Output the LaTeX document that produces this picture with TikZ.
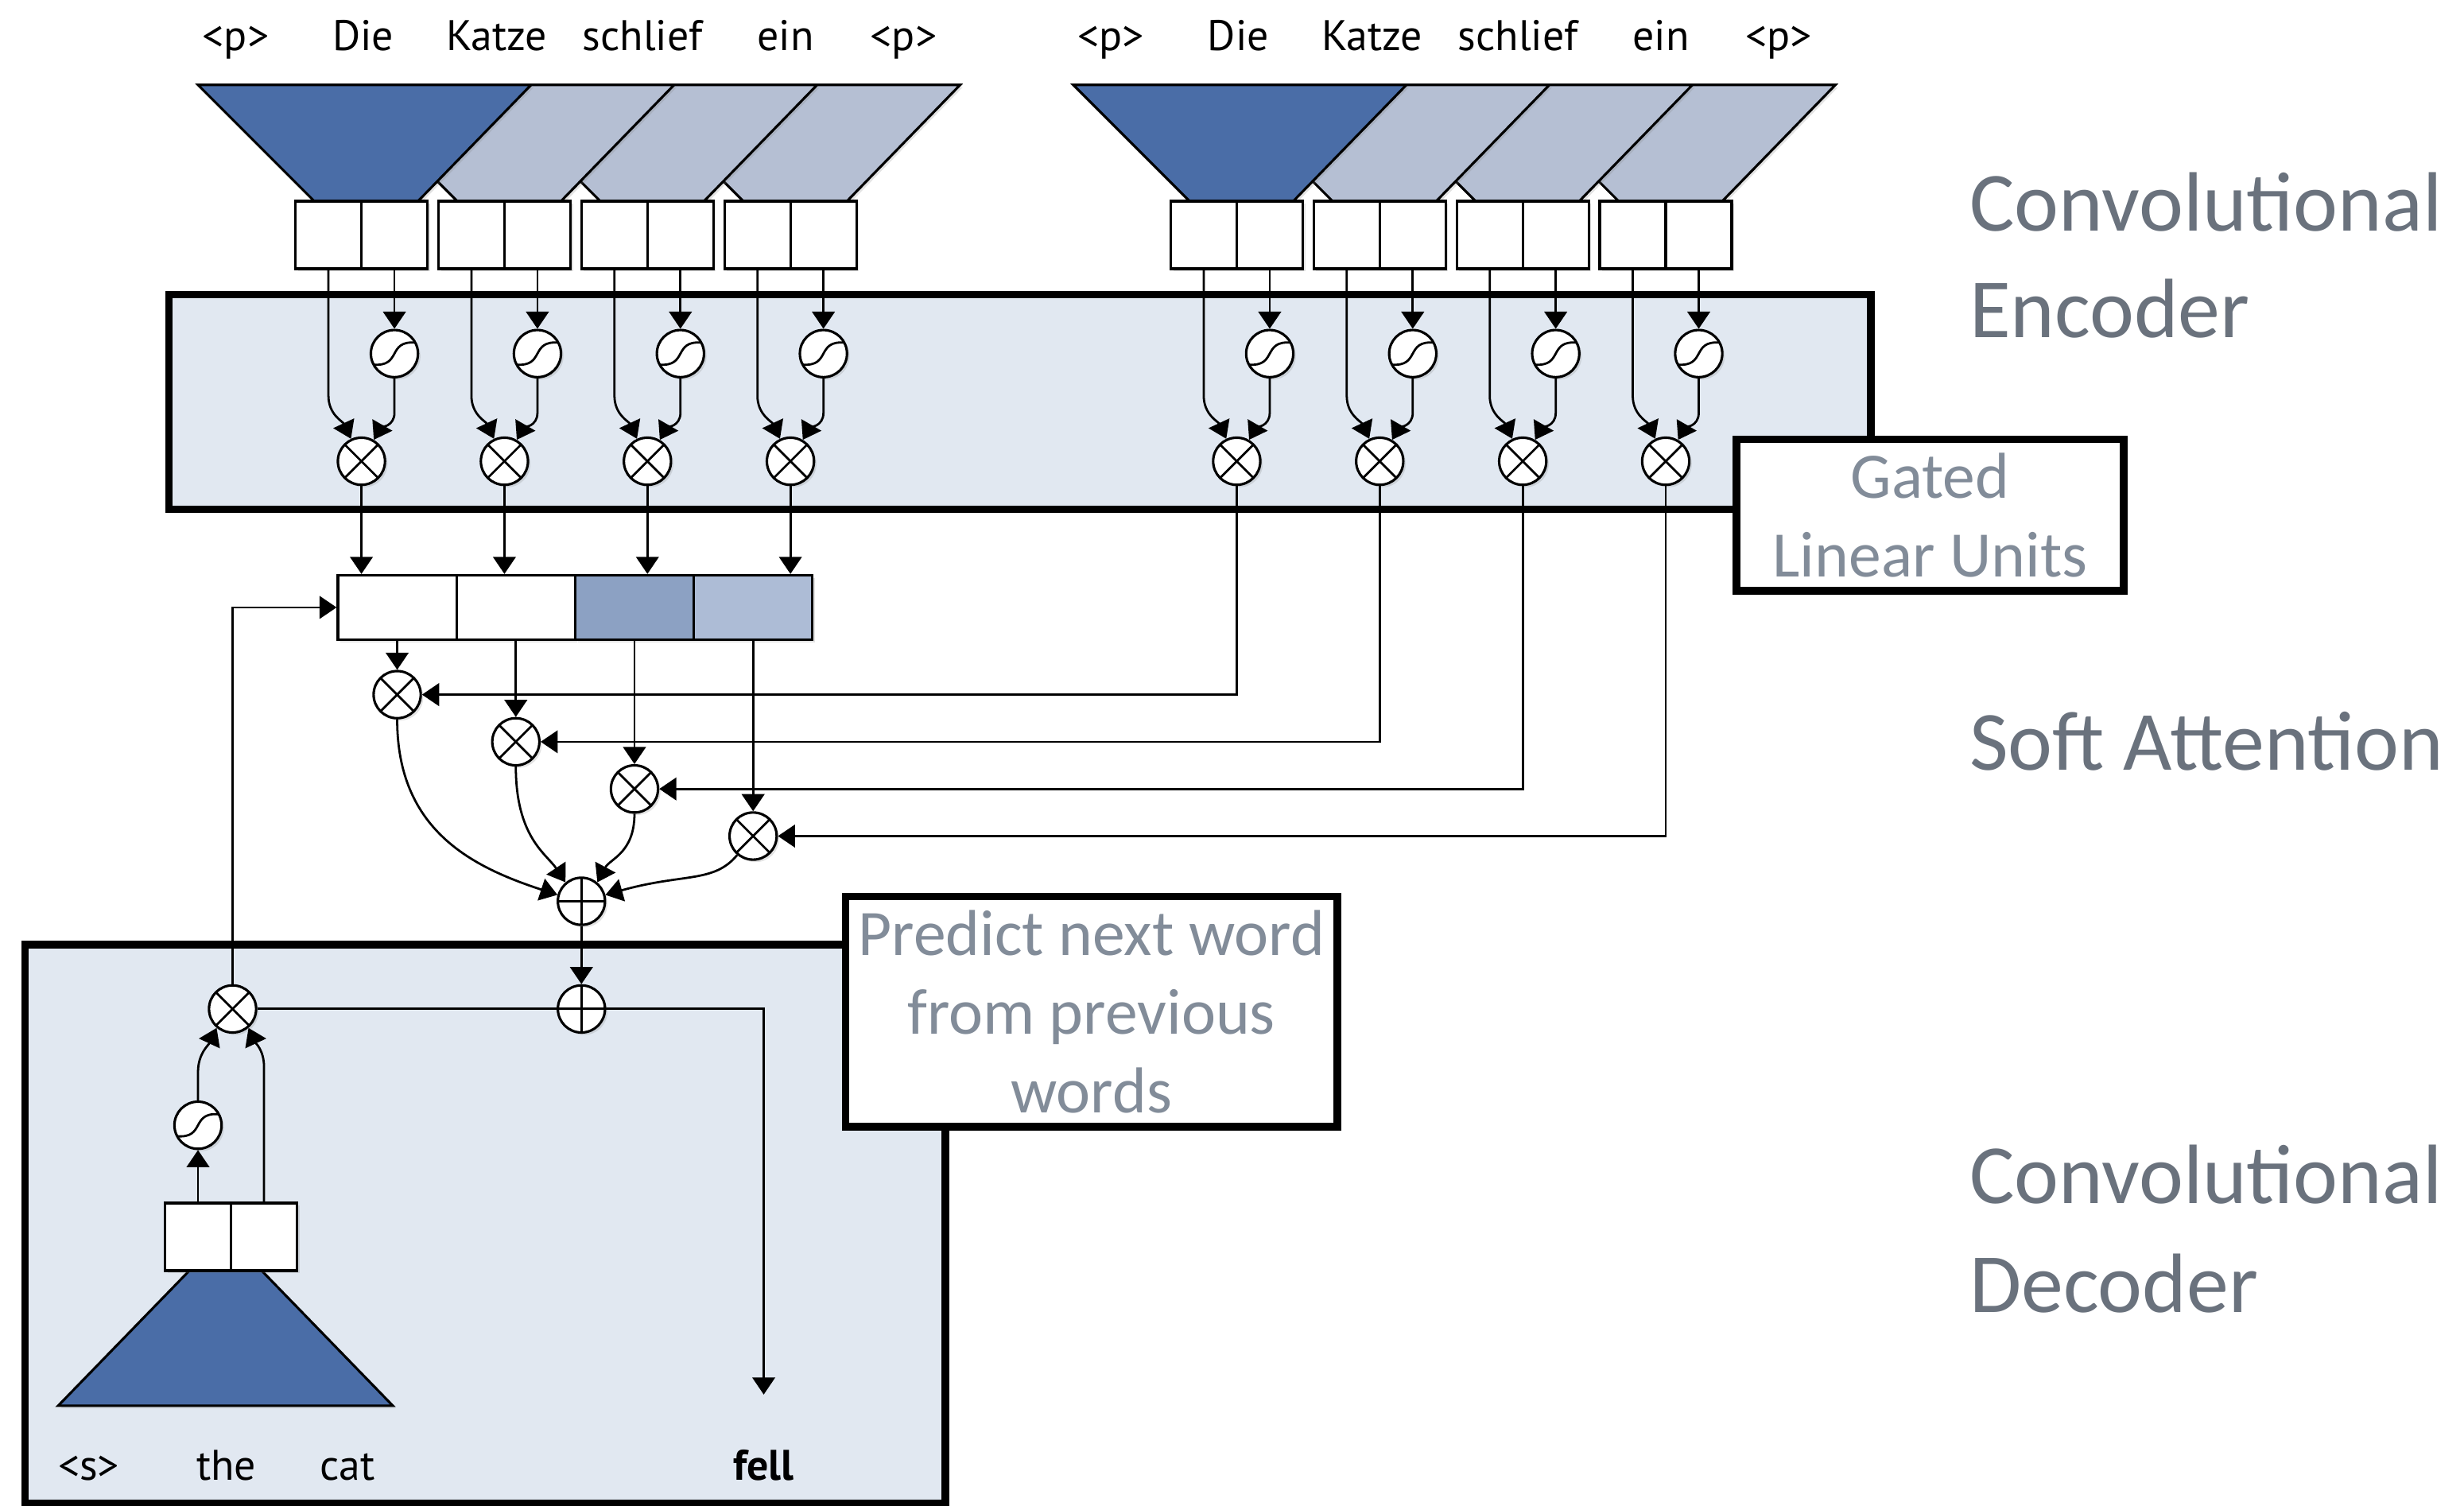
\documentclass[tikz,border=0pt]{standalone}
\usepackage{fontspec}
\setmainfont{Carlito}
\newfontfamily\wordfont{PT Sans}
\usetikzlibrary{arrows.meta, shadows, calc, positioning}
\definecolor{convblue}{HTML}{4A6DA7}
\definecolor{convlight}{HTML}{B5BFD3}
\definecolor{attmid}{HTML}{8CA1C3}
\definecolor{attlight}{HTML}{ADBCD6}
\definecolor{panelbg}{HTML}{E1E8F1}
\definecolor{labelgray}{HTML}{6A727D}
\definecolor{notegray}{HTML}{828C99}
\tikzset{
  >={Triangle[length=6.2pt,width=8.2pt]},  % Frecce triangolari
  % Ombre leggere
  soft shadow/.style={drop shadow={opacity=0.22,shadow xshift=0.9pt,shadow yshift=-0.9pt}},
  % Celle e filtri
  cell/.style={draw,fill=white,line width=0.9pt,minimum width=0.84cm,minimum height=0.86cm,inner sep=0,soft shadow},
  trap dark/.style={draw,fill=convblue,line width=0.9pt,soft shadow},
  trap light/.style={draw,fill=convlight,line width=0.9pt,soft shadow},
  % Porte
  gate/.style={circle,draw,fill=white,line width=0.9pt,minimum size=0.6cm,inner sep=0,soft shadow},
  gate mul/.style={gate,path picture={
      \draw[line width=0.8pt] (path picture bounding box.north west) -- (path picture bounding box.south east)
        (path picture bounding box.north east) -- (path picture bounding box.south west);}},
  gate sum/.style={gate,path picture={
      \draw[line width=0.8pt] (path picture bounding box.north) -- (path picture bounding box.south)
        (path picture bounding box.east) -- (path picture bounding box.west);}},
  gate sig/.style={gate,path picture={
      \draw[line width=0.8pt] ($(path picture bounding box.center)+(-0.27cm,-0.14cm)$)
        .. controls ($(path picture bounding box.center)+(0.1cm,-0.17cm)$)
        and ($(path picture bounding box.center)+(-0.1cm,0.17cm)$)
        .. ($(path picture bounding box.center)+(0.27cm,0.14cm)$);}},
  % Connessioni
  connect/.style={line width=0.8pt},
  connect arrow/.style={connect,->},
  % Riquadri e testi
  panel/.style={draw,line width=2.8pt,fill=panelbg},
  note box/.style={draw,line width=2.8pt,fill=white,text=notegray,align=center,
    font=\fontsize{23.5}{28.5}\selectfont,inner sep=0},
  side label/.style={text=labelgray,font=\fontsize{30.5}{36}\selectfont,anchor=base west,inner sep=0},
  word/.style={font=\wordfont\fontsize{15.5}{18}\selectfont,anchor=base,inner sep=0}
}

\begin{document}
\begin{tikzpicture}[x=0.02cm,y=0.02cm]
  \useasboundingbox (0,0) rectangle (1568,-958);
  % Panels
  \draw[panel] (107.5,-187.5) rectangle (1190.5,-324);
  \draw[panel] (16,-601) rectangle (601.5,-956.5);
  % Encoder (two copies)
  \foreach \e/\sx in {1/0,2/557} {
    \foreach \w/\wx [count=\k] in {<p>/150,Die/231,Katze/316,schlief/409,ein/500,<p>/575}
      \node[word] (w\e\k) at (\wx+\sx,-32) {\w};
    \foreach \i in {3,2,1}
      \filldraw[trap light] ({188+\sx+91*\i-62},-54) -- ++(212,0) -- ++(-72,-74) -- ++(-66,0) -- cycle;
    \filldraw[trap dark] ({188+\sx-62},-54) -- ++(212,0) -- ++(-72,-74) -- ++(-66,0) -- cycle;
    \foreach \i in {0,...,3} {
      \node[cell] (cl\e\i) at ({188+\sx+91*\i+21},-149.5) {};
      \node[cell] (cr\e\i) at ({188+\sx+91*\i+63},-149.5) {};
      \node[gate sig] (sg\e\i) at ({188+\sx+91*\i+63},-225) {};
      \node[gate mul] (ml\e\i) at ({188+\sx+91*\i+42},-293.5) {};
      \draw[connect arrow] (cr\e\i.south) -- (sg\e\i.north);
      \draw[connect arrow] (cl\e\i.south) -- ++(0,-80) to[out=-90,in=115] (ml\e\i.115);
      \draw[connect arrow] (sg\e\i.south) -- ++(0,-22) to[out=-90,in=60] (ml\e\i.60);
    }
  }
  % Soft attention
  \foreach \i/\col in {0/white,1/white,2/attmid,3/attlight} {
    \node[cell,fill=\col,minimum width=1.51cm,minimum height=0.82cm] (a\i) at ({252.75+75.5*\i},-386.5) {};
    \node[gate mul] (am\i) at ({252.75+75.5*\i},{-442-30*\i}) {};
  }
  \node[gate sum] (asum) at (370,-573.5) {};
  \foreach \i in {0,...,3} {
    \draw[connect arrow] (ml1\i.south) -- (ml1\i.south |- a0.north);
    \draw[connect arrow] (ml2\i.south) |- (am\i.east);
    \draw[connect arrow] (a\i.south) -- (am\i.north);
  }
  \draw[connect arrow] (am0.south) .. controls +(0,-70) and +(-55,18) .. (asum.165);
  \draw[connect arrow] (am1.south) .. controls +(0,-45) and +(-12,18) .. (asum.130);
  \draw[connect arrow] (am2.south) .. controls +(0,-25) and +(8,15) .. (asum.50);
  \draw[connect arrow] (am3.-130) .. controls +(-15,-18) and +(50,14) .. (asum.15);
  % Decoder
  \filldraw[trap dark] (121,-808) -- (166,-808) -- (250,-894.5) -- (37,-894.5) -- cycle;
  \node[cell] (dcl) at (126,-787) {};
  \node[cell] (dcr) at (168,-787) {};
  \node[gate sig] (dsg) at (126,-716) {};
  \node[gate mul] (dml) at (148,-642) {};
  \node[gate sum] (dsum) at (370,-642) {};
  \node[word] (ws) at (56.5,-942) {<s>};
  \node[word] (wthe) at (144,-942) {the};
  \node[word] (wcat) at (221,-942) {cat};
  \node[word,font=\wordfont\bfseries\fontsize{15.5}{18}\selectfont] (fell) at (486,-942) {fell};
  \draw[connect arrow] (dcl.north) -- (dsg.south);
  \draw[connect arrow] (dsg.north) -- ++(0,18) to[out=90,in=-115] (dml.-130);
  \draw[connect arrow] (dcr.north) -- ++(0,86) to[out=90,in=-65] (dml.-50);
  \draw[connect arrow] (dml.north) |- (a0.west);
  \draw[connect] (dml.east) -- (dsum.west);
  \draw[connect arrow] (asum.south) -- (dsum.north);
  \draw[connect arrow] (dsum.east) -| ([yshift=0.7cm]fell.north);
  % Notes
  \node[note box,minimum width=4.93cm,minimum height=1.93cm] (glu) at (1228.25,-327.75) {Gated\\Linear Units};
  \node[note box,minimum width=6.26cm,minimum height=2.93cm] (pred) at (694.5,-643.75) {Predict next word\\from previous\\words};
  % Side labels
  \node[side label] (lenc1) at (1253,-147) {Convolutional};
  \node[side label] (lenc2) at (1253,-215) {Encoder};
  \node[side label] (latt) at (1253,-490) {Soft Attention};
  \node[side label] (ldec1) at (1253,-766) {Convolutional};
  \node[side label] (ldec2) at (1253,-835) {Decoder};
\end{tikzpicture}
\end{document}
